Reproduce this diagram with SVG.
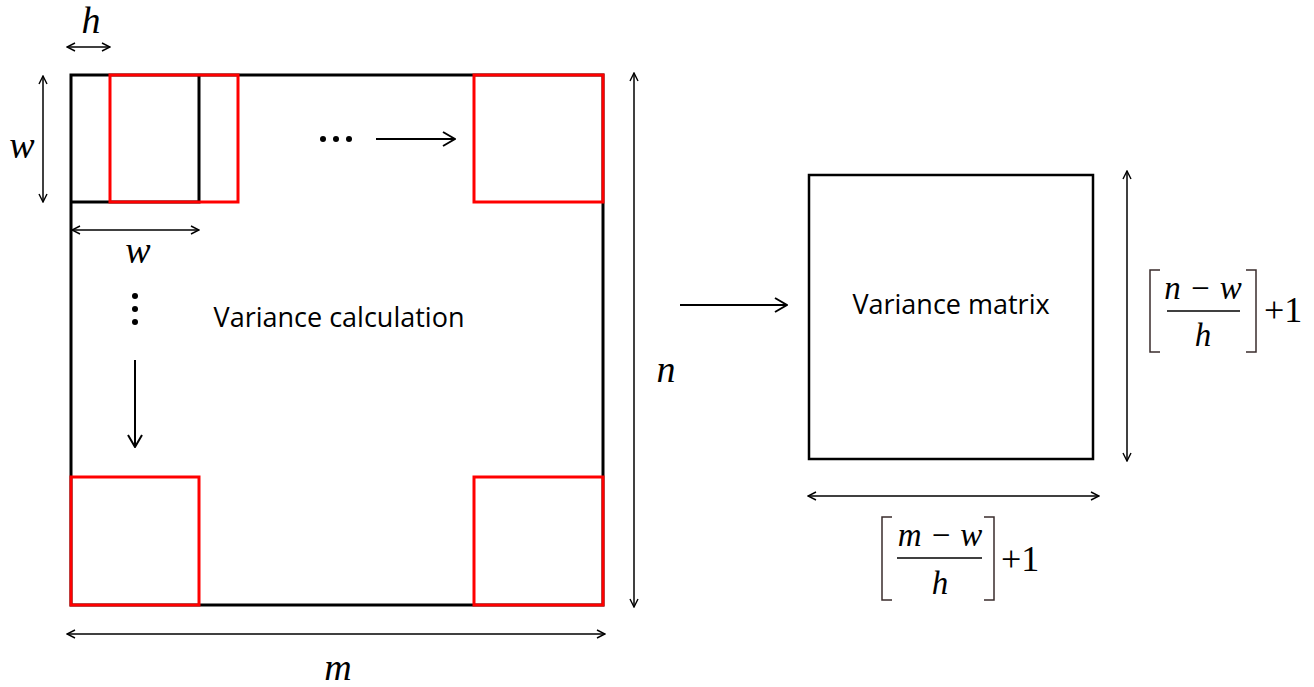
<svg xmlns="http://www.w3.org/2000/svg" width="1314" height="687" viewBox="0 0 1314 687">
<defs>
<marker id="ah" viewBox="0 0 10 10" refX="9" refY="5" markerWidth="10" markerHeight="10" markerUnits="userSpaceOnUse" orient="auto-start-reverse">
<path d="M1,1 L9,5 L1,9" fill="none" stroke="#000" stroke-width="1.4"/>
</marker>
<marker id="ahb" viewBox="0 0 14 16" refX="13" refY="8" markerWidth="14" markerHeight="16" markerUnits="userSpaceOnUse" orient="auto">
<path d="M1,1 L13,8 L1,15" fill="none" stroke="#000" stroke-width="2"/>
</marker>
<style>
.blk{fill:none;stroke:#000;stroke-width:3}
.red{fill:none;stroke:#f00;stroke-width:3}
.dim{fill:none;stroke:#000;stroke-width:1.5;marker-start:url(#ah);marker-end:url(#ah)}
.arr{fill:none;stroke:#000;stroke-width:2;marker-end:url(#ahb)}
.var{font-family:'Liberation Serif','Times New Roman','DejaVu Serif',serif;font-style:italic;font-size:38px;fill:#000;text-anchor:middle}
.fv{font-family:'Liberation Serif','Times New Roman','DejaVu Serif',serif;font-style:italic;font-size:33px;fill:#000;text-anchor:middle}
.fn{font-family:'Liberation Serif','Times New Roman','DejaVu Serif',serif;font-size:36px;fill:#000}
.lbl{font-family:'Open Sans','Liberation Sans',sans-serif;font-size:27px;fill:#000;text-anchor:middle}
.brk{fill:none;stroke:#3a2c2c;stroke-width:1.5}
</style>
</defs>
<g id="input-matrix">
<rect class="blk" x="71" y="75" width="532" height="530"/>
<polyline class="blk" points="71,202 199,202 199,75"/>
<rect class="red" x="110" y="75" width="128" height="127"/>
<rect class="red" x="474" y="75" width="129" height="127"/>
<rect class="red" x="71" y="477" width="128" height="128"/>
<rect class="red" x="474" y="477" width="129" height="128"/>
<text class="lbl" x="339" y="327">Variance calculation</text>
<circle cx="323" cy="139" r="3"/><circle cx="336" cy="139" r="3"/><circle cx="349" cy="139" r="3"/>
<circle cx="135" cy="296" r="3"/><circle cx="135" cy="309" r="3"/><circle cx="135" cy="322" r="3"/>
</g>
<g id="output-matrix">
<rect x="809" y="175" width="284" height="284" fill="none" stroke="#000" stroke-width="2.5"/>
<text class="lbl" x="951" y="314">Variance matrix</text>
</g>
<g id="labels">
<text class="var" x="91" y="33">h</text>
<text class="var" x="22" y="158">w</text>
<text class="var" x="138" y="263">w</text>
<text class="var" x="666" y="382">n</text>
<text class="var" x="338" y="680">m</text>
</g>
<g id="formula-m">
<path class="brk" d="M892,517 L882,517 L882,600 L892,600"/>
<path class="brk" d="M984,517 L994,517 L994,600 L984,600"/>
<text class="fv" x="940" y="546">m − w</text>
<line x1="897" y1="558" x2="982" y2="558" stroke="#000" stroke-width="1.5"/>
<text class="fv" x="940" y="594">h</text>
<text class="fn" x="1001" y="571">+1</text>
</g>
<g id="formula-n">
<path class="brk" d="M1160,270 L1150,270 L1150,352 L1160,352"/>
<path class="brk" d="M1246,270 L1256,270 L1256,352 L1246,352"/>
<text class="fv" x="1203" y="299">n − w</text>
<line x1="1167" y1="311" x2="1240" y2="311" stroke="#000" stroke-width="1.5"/>
<text class="fv" x="1203" y="346">h</text>
<text class="fn" x="1264" y="322">+1</text>
</g>
<g id="connectors">
<line class="dim" x1="67" y1="47" x2="110" y2="47"/>
<line class="dim" x1="43" y1="76" x2="43" y2="202"/>
<line class="dim" x1="72" y1="230" x2="199" y2="230"/>
<line class="dim" x1="634" y1="73" x2="634" y2="607"/>
<line class="dim" x1="67" y1="634" x2="605" y2="634"/>
<line class="dim" x1="1127" y1="171" x2="1127" y2="461"/>
<line class="dim" x1="808" y1="496" x2="1099" y2="496"/>
<line class="arr" x1="376" y1="139" x2="455" y2="139"/>
<line class="arr" x1="135" y1="360" x2="135" y2="447"/>
<line class="arr" x1="680" y1="305" x2="787" y2="305" stroke-width="3"/>
</g>
</svg>
